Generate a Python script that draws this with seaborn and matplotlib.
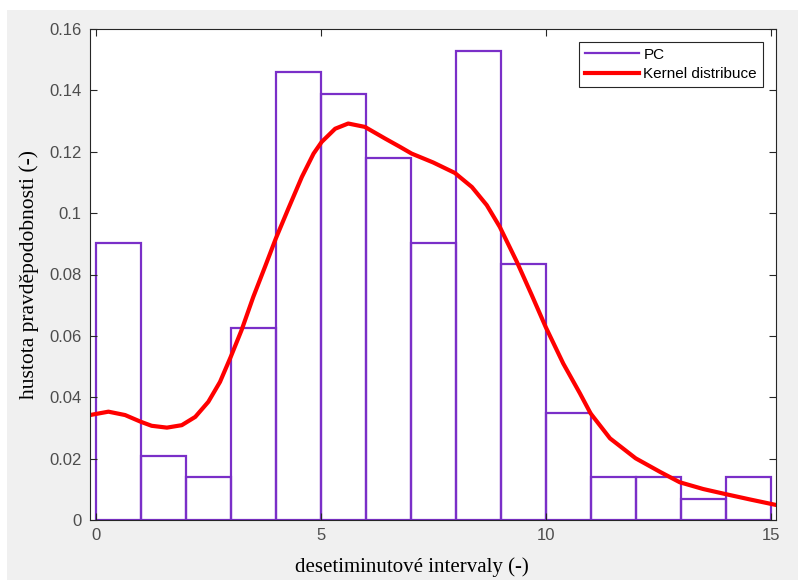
import numpy as np
import pandas as pd
import matplotlib
matplotlib.use("Agg")
import matplotlib.pyplot as plt
from matplotlib.lines import Line2D
from matplotlib.patches import Rectangle
from matplotlib.ticker import FuncFormatter
import seaborn as sns

# ---- data ----
bin_edges = list(range(0, 16))
counts = [13, 3, 2, 9, 21, 20, 17, 13, 22, 12, 5, 2, 2, 1, 2]
total = 144
kernel_x = [-0.13, 0.28, 0.65, 1.0, 1.24, 1.58, 1.91, 2.21, 2.50, 2.76, 3.0, 3.24, 3.50,
            3.76, 4.0, 4.28, 4.58, 4.84, 5.02, 5.32, 5.61, 5.98, 6.43, 6.76, 7.02, 7.50,
            7.98, 8.36, 8.69, 8.98, 9.36, 9.69, 10.0, 10.39, 10.76, 11.0, 11.43, 12.0,
            12.54, 12.98, 13.50, 13.98, 14.54, 15.12]
kernel_y = [0.0342, 0.0353, 0.0342, 0.0320, 0.0307, 0.0301, 0.0309, 0.0336, 0.0385, 0.0450,
            0.0532, 0.0619, 0.0727, 0.0825, 0.0917, 0.1015, 0.1118, 0.1194, 0.1232, 0.1275,
            0.1292, 0.1281, 0.1243, 0.1216, 0.1194, 0.1165, 0.1131, 0.1085, 0.1026, 0.0955,
            0.0841, 0.0733, 0.0629, 0.0510, 0.0413, 0.0347, 0.0266, 0.0201, 0.0157, 0.0123,
            0.0101, 0.0085, 0.0067, 0.0049]
x_ticks = [0, 5, 10, 15]
y_ticks = [0, 0.02, 0.04, 0.06, 0.08, 0.1, 0.12, 0.14, 0.16]
legend_labels = ["PC", "Kernel distribuce"]
x_label = "desetiminutové intervaly (-)"
y_label = "hustota pravděpodobnosti (-)"

centers = [e + 0.5 for e in bin_edges[:-1]]
density = [c / total for c in counts]
hist_df = pd.DataFrame({"x": centers, "w": density})
kde_df = pd.DataFrame({"x": kernel_x, "y": kernel_y})

purple = "#7a2fc8"
red = "#ff0000"

fig = plt.figure(figsize=(8.04, 5.83), dpi=100, facecolor="white")
fig.patches.append(Rectangle((7 / 804, 3 / 583), 791 / 804, 570 / 583,
                             transform=fig.transFigure, facecolor="#f0f0f0",
                             edgecolor="none", zorder=-10))
ax = fig.add_axes([90 / 804, 1 - 520 / 583, 686 / 804, 491 / 583])
ax.set_facecolor("white")

sns.histplot(data=hist_df, x="x", weights="w", bins=bin_edges, stat="count",
             fill=False, element="bars", color=purple, linewidth=1.6, ax=ax)
sns.lineplot(data=kde_df, x="x", y="y", color=red, linewidth=3.0, ax=ax)
for ln in ax.get_lines():
    ln.set_solid_joinstyle("round")
    ln.set_solid_capstyle("round")

ax.set_xlim(-0.13, 15.12)
ax.set_ylim(0, 0.16)
ax.set_xticks(x_ticks)
ax.set_yticks(y_ticks)
ax.yaxis.set_major_formatter(FuncFormatter(lambda v, p: f"{v:g}"))
ax.tick_params(direction="in", length=5, width=0.8, colors="#262626",
               labelcolor="#4d4d4d", labelsize=12, top=True, right=True,
               labeltop=False, labelright=False, pad=6)
for s in ax.spines.values():
    s.set_color("#262626")
    s.set_linewidth(0.8)

ax.set_xlabel(x_label, fontfamily="Liberation Serif", fontsize=15, color="black", labelpad=6)
ax.xaxis.set_label_coords(0.469, -0.075)
ax.set_ylabel(y_label, fontfamily="Liberation Serif", fontsize=15.5, color="black", labelpad=4)
ax.yaxis.set_label_coords(-0.074, 0.50)
for t in ax.get_xticklabels() + ax.get_yticklabels():
    t.set_fontfamily("Liberation Sans")

handles = [Line2D([], [], color=purple, lw=1.6), Line2D([], [], color=red, lw=3.0)]
leg = ax.legend(handles, legend_labels, loc="upper right",
                bbox_to_anchor=(1 - 13 / 686, 1 - 12.5 / 491), borderaxespad=0,
                frameon=True, fancybox=False, shadow=False, handlelength=3.5,
                handletextpad=0.3, borderpad=0.4, labelspacing=0.35,
                prop={"family": "Liberation Sans", "size": 11})
leg.get_frame().set_edgecolor("#262626")
leg.get_frame().set_linewidth(0.8)
leg.get_frame().set_alpha(1)

fig.savefig("out.png", dpi=100, facecolor=fig.get_facecolor())
